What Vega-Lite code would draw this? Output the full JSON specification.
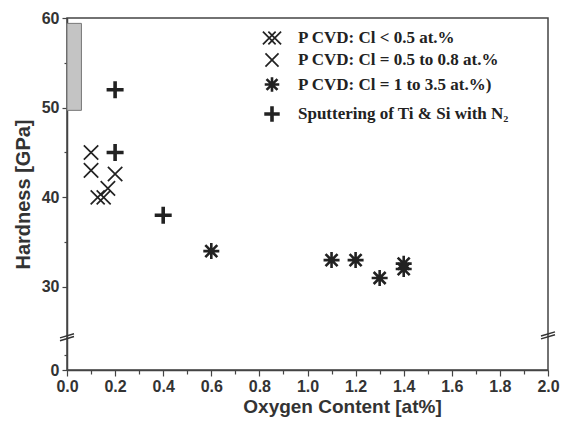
{
  "$schema": "https://vega.github.io/schema/vega-lite/v6.json",
  "autosize": "none",
  "width": 481,
  "height": 352,
  "padding": {"left": 67, "top": 18, "right": 13, "bottom": 53},
  "background": "white",
  "config": {
    "view": {"stroke": "#444", "strokeWidth": 1.5},
    "axis": {
      "domainColor": "#444", "domainWidth": 1.5, "tickColor": "#444", "tickWidth": 1.2,
      "labelFont": "Liberation Sans", "labelFontWeight": "bold", "labelFontSize": 16, "labelColor": "#333",
      "titleFont": "Liberation Sans", "titleFontWeight": "bold", "titleFontSize": 19, "titleColor": "#333",
      "grid": false
    }
  },
  "datasets": {
    "bar": [{"x": 0, "x2": 0.06, "y": 49.7, "y2": 59.4}],
    "pts": [
      {"o": 0.1, "h": 45, "s": "P CVD: Cl = 0.5 to 0.8 at.%"},
      {"o": 0.1, "h": 43, "s": "P CVD: Cl = 0.5 to 0.8 at.%"},
      {"o": 0.2, "h": 42.6, "s": "P CVD: Cl = 0.5 to 0.8 at.%"},
      {"o": 0.17, "h": 41, "s": "P CVD: Cl = 0.5 to 0.8 at.%"},
      {"o": 0.14, "h": 40, "s": "P CVD: Cl < 0.5 at.%"},
      {"o": 0.2, "h": 52, "s": "Sputtering of Ti & Si with N₂"},
      {"o": 0.2, "h": 45, "s": "Sputtering of Ti & Si with N₂"},
      {"o": 0.4, "h": 38, "s": "Sputtering of Ti & Si with N₂"},
      {"o": 0.6, "h": 34, "s": "P CVD: Cl = 1 to 3.5 at.%)"},
      {"o": 1.1, "h": 33, "s": "P CVD: Cl = 1 to 3.5 at.%)"},
      {"o": 1.2, "h": 33, "s": "P CVD: Cl = 1 to 3.5 at.%)"},
      {"o": 1.3, "h": 31, "s": "P CVD: Cl = 1 to 3.5 at.%)"},
      {"o": 1.4, "h": 32.6, "s": "P CVD: Cl = 1 to 3.5 at.%)"},
      {"o": 1.4, "h": 32, "s": "P CVD: Cl = 1 to 3.5 at.%)"}
    ],
    "brk": [{"x": 0, "y": 24.4}, {"x": 2, "y": 24.6}]
  },
  "resolve": {"axis": {"x": "independent", "y": "independent"}},
  "layer": [
    {
      "data": {"name": "bar"},
      "mark": {"type": "rect", "fill": "#c4c4c4", "stroke": "#777", "strokeWidth": 1},
      "encoding": {
        "x": {"field": "x", "type": "quantitative", "scale": {"domain": [0, 2], "nice": false}, "axis": null},
        "x2": {"field": "x2"},
        "y": {"field": "y", "type": "quantitative", "scale": {"domain": [20.74, 60], "nice": false, "zero": false}, "axis": null},
        "y2": {"field": "y2"}
      }
    },
    {
      "data": {"name": "pts"},
      "mark": {"type": "point", "filled": false, "opacity": 1, "color": "#222", "size": 400},
      "encoding": {
        "x": {"field": "o", "type": "quantitative", "scale": {"domain": [0, 2], "nice": false},
          "axis": {"orient": "bottom", "values": [0, 0.2, 0.4, 0.6, 0.8, 1.0, 1.2, 1.4, 1.6, 1.8, 2.0], "format": ".1f", "tickSize": 6, "labelPadding": 2, "title": "Oxygen Content [at%]", "titlePadding": 3, "titleX": 275, "labelFlush": false}},
        "y": {"field": "h", "type": "quantitative", "scale": {"domain": [20.74, 60], "nice": false, "zero": false},
          "axis": {"orient": "left", "values": [20.74, 30, 40, 50, 60], "labelExpr": "datum.value < 25 ? '0' : format(datum.value, 'd')", "tickSize": 5, "labelPadding": 3, "title": "Hardness [GPa]", "titleFontSize": 20, "titlePadding": 8, "labelFlush": false}},
        "shape": {"field": "s", "type": "nominal",
          "scale": {
            "domain": ["P CVD: Cl < 0.5 at.%", "P CVD: Cl = 0.5 to 0.8 at.%", "P CVD: Cl = 1 to 3.5 at.%)", "Sputtering of Ti & Si with N₂"],
            "range": [
              "M-1,-0.7L0.4,0.7M-1,0.7L0.4,-0.7M-0.4,-0.7L1,0.7M-0.4,0.7L1,-0.7",
              "M-0.72,-0.72L0.72,0.72M-0.72,0.72L0.72,-0.72",
              "M-0.6,-0.6L0.6,0.6M-0.6,0.6L0.6,-0.6M0,-0.8L0,0.8M-0.8,0L0.8,0",
              "M0,-0.85L0,0.85M-0.85,0L0.85,0"
            ]
          },
          "legend": {
            "title": null, "orient": "none", "legendX": 194, "legendY": 10,
            "labelFont": "Liberation Serif", "labelFontWeight": "bold", "labelFontSize": 17, "labelColor": "#222",
            "labelLimit": 0, "rowPadding": 2, "labelOffset": 15, "symbolSize": 330, "symbolStrokeColor": "#222"
          }
        },
        "strokeWidth": {"field": "s", "type": "nominal",
          "scale": {"type": "ordinal", "domain": ["P CVD: Cl < 0.5 at.%", "P CVD: Cl = 0.5 to 0.8 at.%", "P CVD: Cl = 1 to 3.5 at.%)", "Sputtering of Ti & Si with N₂"], "range": [1.7, 1.7, 2.6, 3.6]}}
      }
    },
    {
      "data": {"name": "brk"},
      "mark": {"type": "point", "filled": false, "opacity": 1, "color": "#333", "strokeWidth": 1.5, "size": 196, "shape": "M-1,0.1L1,-0.5M-1,0.5L1,-0.1"},
      "encoding": {
        "x": {"field": "x", "type": "quantitative", "scale": {"domain": [0, 2], "nice": false},
          "axis": {"orient": "bottom", "values": [0.1, 0.3, 0.5, 0.7, 0.9, 1.1, 1.3, 1.5, 1.7, 1.9], "tickSize": 4, "labels": false, "domain": false, "title": null}},
        "y": {"field": "y", "type": "quantitative", "scale": {"domain": [20.74, 60], "nice": false, "zero": false},
          "axis": {"orient": "left", "values": [22.4, 35, 45, 55], "tickSize": 3, "labels": false, "domain": false, "title": null}}
      }
    }
  ]
}
